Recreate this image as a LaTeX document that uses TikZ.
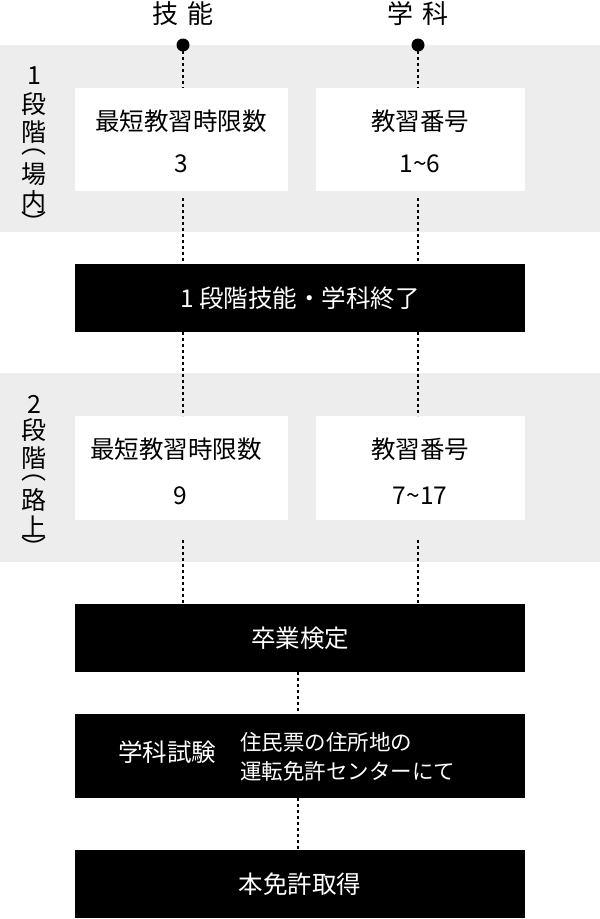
\documentclass[tikz,border=0pt]{standalone}
\usepackage{fontspec}
\setmainfont{Noto Sans CJK JP}
\begin{document}
\begin{tikzpicture}[x=1pt,y=-1pt,
  wbox/.style={fill=white,draw=none},
  bbox/.style={fill=black,draw=none},
  txt/.style={font=\fontsize{24.5}{28}\selectfont,inner sep=0},
  wtxt/.style={txt,text=white},
  dots/.style={line width=1.6pt,dash pattern=on 3pt off 3pt},
  side/.style={font=\fontsize{25}{25}\selectfont,inner sep=0}]
\useasboundingbox (0,0) rectangle (600,919);
\fill[white] (0,0) rectangle (600,919);
\fill[black!7] (0,45) rectangle (600,232);
\fill[black!7] (0,373) rectangle (600,562);
% white boxes
\fill[wbox] (75,88) rectangle (288,191);
\fill[wbox] (316,88) rectangle (525,191);
\fill[wbox] (75,416) rectangle (288,520);
\fill[wbox] (316,416) rectangle (525,520);
% dotted lines
\draw[dots] (183,45) -- (183,88);
\draw[dots] (183,198) -- (183,264);
\draw[dots] (183,332) -- (183,416);
\draw[dots] (183,540) -- (183,604);
\draw[dots] (418,45) -- (418,88);
\draw[dots] (418,198) -- (418,264);
\draw[dots] (418,332) -- (418,416);
\draw[dots] (418,540) -- (418,604);
\draw[dots] (298,672) -- (298,714);
\draw[dots] (298,798) -- (298,850);
\fill (183,45) circle (6.5);
\fill (418,45) circle (6.5);
\node[txt,font=\fontsize{26}{28}\selectfont] (t1) at (183,14) {技\hspace{9pt}能};
\node[txt,font=\fontsize{26}{28}\selectfont] (t2) at (418,14) {学\hspace{9pt}科};
% box texts
\node[txt] at (181,121) {最短教習時限数};
\node[txt] at (181,164) {3};
\node[txt] at (420,121) {教習番号};
\node[txt] at (420,164) {1\char"7E 6};
\node[txt] at (176,449) {最短教習時限数};
\node[txt] at (180,496) {9};
\node[txt] at (420,449) {教習番号};
\node[txt] at (420,496) {7\char"7E 17};
% black boxes
\fill[bbox] (75,264) rectangle (525,332);
\node[wtxt] (a) at (300,298) {1\hspace{5pt}段階技能・学科終了};
\fill[bbox] (75,604) rectangle (525,672);
\node[wtxt] (b) at (300,638) {卒業検定};
\fill[bbox] (75,714) rectangle (525,798);
\node[wtxt] (c) at (167,752) {学科試験};
\node[wtxt,font=\fontsize{21.5}{29}\selectfont,align=left,anchor=west] (c2) at (240,757) {住民票の住所地の\\運転免許センターにて};
\fill[bbox] (75,850) rectangle (525,918);
\node[wtxt] (d) at (300,884) {本免許取得};
% side labels
\node[side] at (34,76) {1};
\node[side] at (34,104) {段};
\node[side] at (34,132) {階};
\node[side] at (34,152) {︵};
\node[side] at (34,174) {場};
\node[side] at (34,202) {内};
\node[side] at (34,222) {︶};
\node[side] at (34,404) {2};
\node[side] at (34,430) {段};
\node[side] at (34,458) {階};
\node[side] at (34,478) {︵};
\node[side] at (34,500) {路};
\node[side] at (34,527) {上};
\node[side] at (34,547) {︶};
\end{tikzpicture}
\end{document}
